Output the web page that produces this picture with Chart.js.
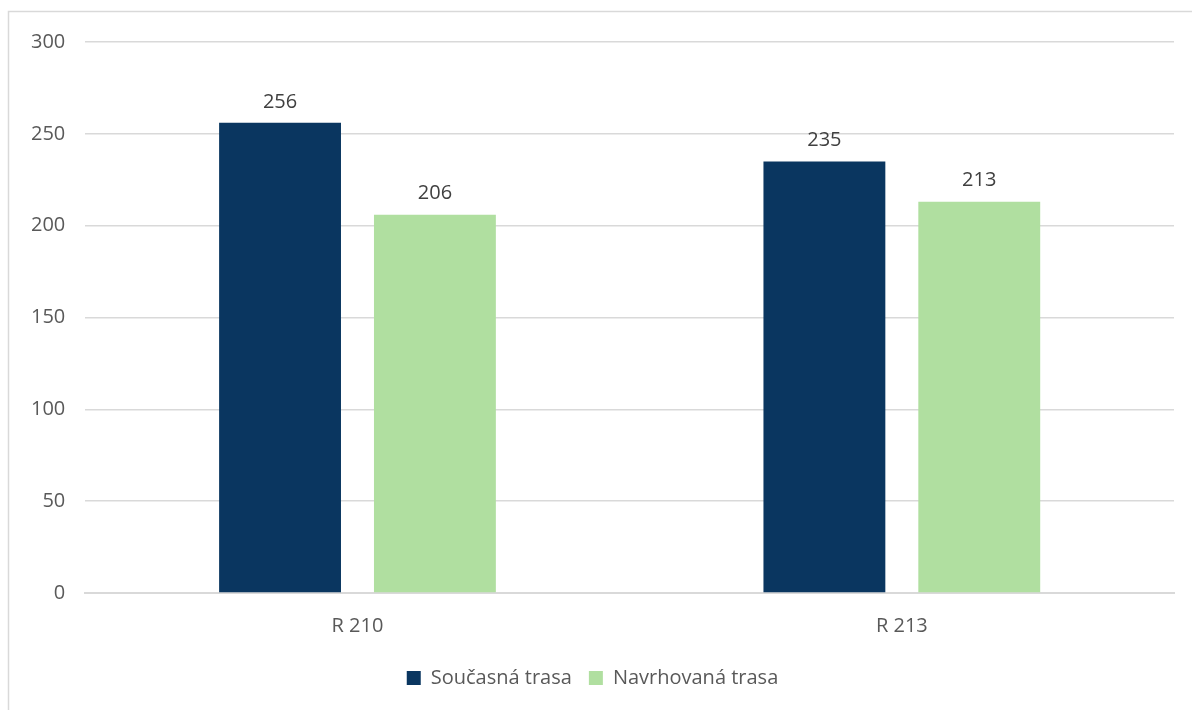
<!DOCTYPE html>
<html>
<head>
<meta charset="utf-8">
<script src="https://cdn.jsdelivr.net/npm/chart.js@4/dist/chart.umd.min.js"></script>
<style>
  html, body { margin: 0; padding: 0; background: #fff; }
  #wrap { width: 1192px; height: 710px; position: relative; }
</style>
</head>
<body>
<div id="wrap"><canvas id="chart" width="1192" height="710"></canvas></div>
<script>
// Chart data
const categories = ['R 210', 'R 213'];
const currentRoute = [256, 235];
const proposedRoute = [206, 213];
const seriesNames = ['Současná trasa', 'Navrhovaná trasa'];

const textColor = '#595959';
const gridColor = '#d9d9d9';
const fontFamily = "'Open Sans', 'Liberation Sans', sans-serif";

// Outer frame like the exported chart area
const framePlugin = {
  id: 'frame',
  beforeDraw(chart) {
    const c = chart.ctx;
    c.save();
    c.strokeStyle = '#d9d9d9';
    c.lineWidth = 1.5;
    c.beginPath();
    c.moveTo(8.5, 710);
    c.lineTo(8.5, 11.5);
    c.lineTo(1192, 11.5);
    c.stroke();
    c.restore();
  }
};

// Value labels above each bar
const valueLabels = {
  id: 'valueLabels',
  afterDatasetsDraw(chart) {
    const c = chart.ctx;
    c.save();
    c.font = `20px ${fontFamily}`;
    c.fillStyle = '#404040';
    c.textAlign = 'center';
    c.textBaseline = 'bottom';
    chart.data.datasets.forEach((ds, i) => {
      chart.getDatasetMeta(i).data.forEach((bar, j) => {
        c.fillText(ds.data[j], bar.x, bar.y - 11);
      });
    });
    c.restore();
  }
};

new Chart(document.getElementById('chart').getContext('2d'), {
  type: 'bar',
  data: {
    labels: categories,
    datasets: [
      { label: seriesNames[0], data: currentRoute, backgroundColor: '#0a3660' },
      { label: seriesNames[1], data: proposedRoute, backgroundColor: '#b0dfa0' }
    ]
  },
  options: {
    responsive: false,
    animation: false,
    devicePixelRatio: 1,
    categoryPercentage: 0.569,
    barPercentage: 0.787,
    layout: { padding: { top: 42, left: 11, right: 18, bottom: 12 } },
    plugins: {
      tooltip: { enabled: false },
      legend: {
        position: 'bottom',
        labels: {
          color: textColor,
          font: { family: fontFamily, size: 20 },
          boxWidth: 14,
          boxHeight: 14,
          padding: 17
        }
      }
    },
    scales: {
      x: {
        grid: { display: false },
        border: { color: gridColor, width: 2 },
        ticks: { color: textColor, font: { family: fontFamily, size: 20 }, padding: 13 }
      },
      y: {
        min: 0,
        max: 300,
        ticks: { stepSize: 50, color: textColor, font: { family: fontFamily, size: 20 }, padding: 20 },
        grid: { color: gridColor, lineWidth: 1.5, drawTicks: false },
        border: { display: false }
      }
    }
  },
  plugins: [framePlugin, valueLabels]
});
</script>
</body>
</html>
